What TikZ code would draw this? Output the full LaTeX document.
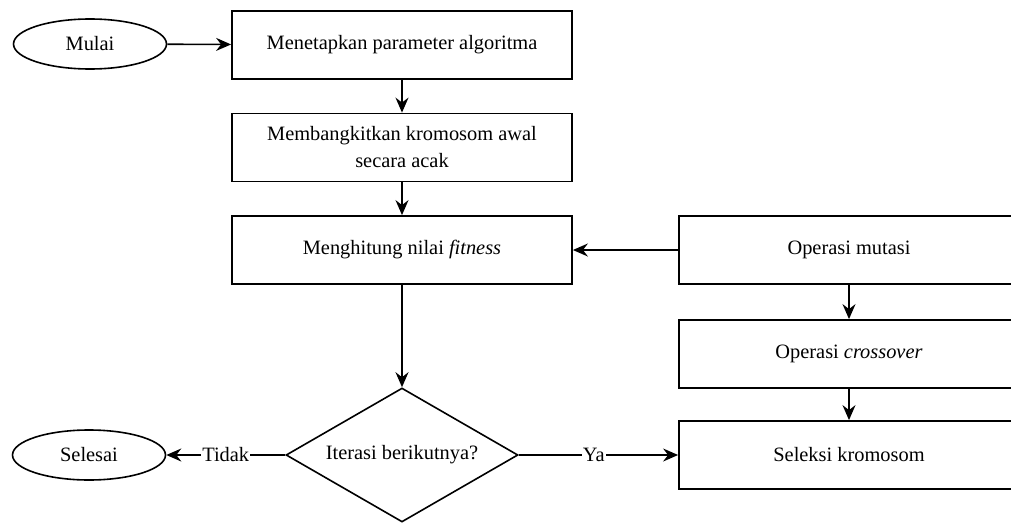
\documentclass[tikz,border=0pt]{standalone}
\usepackage{fontspec}
\setmainfont{LiberationSerif}[Extension=.ttf, UprightFont=*-Regular, ItalicFont=*-Italic, BoldFont=*-Bold]
\usetikzlibrary{shapes.geometric,arrows.meta}

\begin{document}
\begin{tikzpicture}[x=1pt, y=-1pt,
        every node/.style={font=\fontsize{20.4}{27}\selectfont},
        terminal/.style={ellipse, draw, line width=1.6pt, inner sep=0pt, minimum width=153pt, minimum height=50pt},
        process/.style={rectangle, draw, line width=1.8pt, minimum width=340pt, minimum height=68pt, align=center},
        decision/.style={diamond, draw, line width=1.6pt, inner sep=0pt, aspect=1.73, minimum width=232pt, minimum height=134pt},
        flow/.style={-{Stealth[length=15pt,width=13pt,inset=5pt]}, line width=1.6pt},
        answer/.style={fill=white, inner sep=1pt}]
        \useasboundingbox (0,0) rectangle (1011,522);
        \clip (0,0) rectangle (1011,522);
        \fill[white] (0,0) rectangle (1011,522);
        \node[terminal] (start) at (90,44) {Mulai};
        \node[process] (params) at (402,45) {Menetapkan parameter algoritma};
        \node[process] (init) at (402,147.5) {Membangkitkan kromosom awal\\secara acak};
        \node[process] (fitness) at (402,250) {Menghitung nilai \textit{fitness}};
        \node[process] (mutation) at (849,250) {Operasi mutasi};
        \node[process] (crossover) at (849,354) {Operasi \textit{crossover}};
        \node[process] (selection) at (849,455) {Seleksi kromosom};
        \node[decision] (decide) at (402,455) {Iterasi berikutnya?};
        \node[terminal] (stop) at (89,455) {Selesai};
        \draw[flow] (start) -- (params);
        \draw[flow] (params) -- (init);
        \draw[flow] (init) -- (fitness);
        \draw[flow] (fitness) -- (decide);
        \draw[flow] (mutation) -- (fitness);
        \draw[flow] (mutation) -- (crossover);
        \draw[flow] (crossover) -- (selection);
        \draw[flow] (decide) -- node[answer] (no) {Tidak} (stop);
        \draw[flow] (decide) -- node[answer, pos=0.47] (yes) {Ya} (selection);
    \end{tikzpicture}
\end{document}
